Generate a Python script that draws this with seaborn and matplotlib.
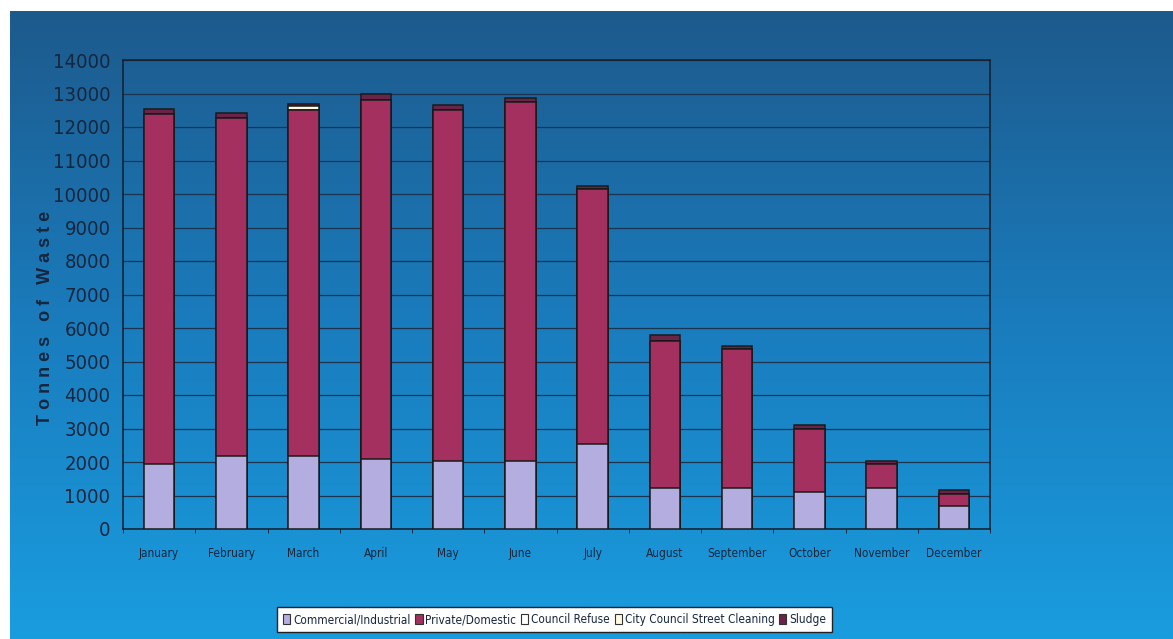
import numpy as np
import pandas as pd
import seaborn as sns
import matplotlib.pyplot as plt
from matplotlib.patches import Patch

months = ["January", "February", "March", "April", "May", "June", "July",
          "August", "September", "October", "November", "December"]

commercial = [1950, 2180, 2180, 2090, 2030, 2030, 2540, 1220, 1220, 1100, 1220, 700]
private = [10450, 10100, 10320, 10710, 10470, 10720, 7600, 4390, 4150, 1890, 720, 340]
council_refuse = [0, 0, 0, 0, 0, 0, 0, 0, 0, 0, 0, 0]
street_cleaning = [0, 0, 120, 0, 0, 0, 0, 0, 0, 0, 0, 0]
sludge = [150, 130, 60, 200, 170, 110, 90, 180, 100, 110, 90, 120]

series = ["Commercial/Industrial", "Private/Domestic", "Council Refuse",
          "City Council Street Cleaning", "Sludge"]
colors = ["#b3ade0", "#a3305f", "#ffffff", "#fffbe0", "#6a2448"]

df = pd.DataFrame({
    "month": months,
    series[0]: commercial,
    series[1]: private,
    series[2]: council_refuse,
    series[3]: street_cleaning,
    series[4]: sludge,
})

text_col = "#16263d"

fig = plt.figure(figsize=(11.73, 6.39), dpi=100, facecolor="white")

# blue gradient backdrop, leaving a thin white margin top/left like the scan
bg = fig.add_axes([10 / 1173, 0, 1 - 10 / 1173, 1 - 11 / 639], zorder=-5)
grad = np.linspace(0, 1, 256).reshape(-1, 1)
cmap = sns.blend_palette(["#1d5a8c", "#1a7cbd", "#199ddf"], as_cmap=True)
bg.imshow(grad, aspect="auto", cmap=cmap, extent=[0, 1, 0, 1], origin="upper")
bg.set_axis_off()

ax = fig.add_axes([123 / 1173, 1 - 529 / 639, 867 / 1173, 469 / 639])
ax.set_facecolor("none")

# stacked bars: draw cumulative totals from the top layer down
cum = df[series].cumsum(axis=1)
for i in range(len(series) - 1, -1, -1):
    sns.barplot(x=df["month"], y=cum[series[i]], color=colors[i], saturation=1,
                width=0.42, edgecolor="#1a1a1a", linewidth=1.1, ax=ax, zorder=3)

ax.set_ylim(0, 14000)
ax.set_xlim(-0.5, 11.5)
ax.set_yticks(range(0, 14001, 1000))
ax.yaxis.grid(True, color="#1b3450", linewidth=0.9, zorder=0)
ax.set_axisbelow(True)
for s in ax.spines.values():
    s.set_color("#141e2c")
    s.set_linewidth(1.1)

ax.tick_params(axis="y", length=0, pad=9, labelsize=14.5, labelcolor=text_col)
ax.tick_params(axis="x", which="major", length=0, pad=13, labelsize=8.5,
               labelcolor=text_col)
ax.set_xticks(np.arange(-0.5, 12, 1), minor=True)
ax.tick_params(axis="x", which="minor", length=3, color="#141e2c")
for lab in ax.get_yticklabels() + ax.get_xticklabels():
    lab.set_fontstretch("condensed")

ax.set_xlabel("")
ax.set_ylabel("T o n n e s   o f   W a s t e", fontsize=13, color=text_col,
              family=["Liberation Sans", "DejaVu Sans"], fontweight="bold")
ax.yaxis.set_label_coords(-0.08, 0.45)

handles = [Patch(facecolor=c, edgecolor="#333333", linewidth=0.8) for c in colors]
leg = fig.legend(handles, series, loc="center", bbox_to_anchor=(0.473, 0.03),
                 ncol=5, frameon=True, fancybox=False, handlelength=0.6,
                 handleheight=0.9, handletextpad=0.25, columnspacing=0.4,
                 borderpad=0.5, prop={"size": 8.5, "stretch": "condensed"})
leg.get_frame().set_facecolor("white")
leg.get_frame().set_edgecolor("#222222")
leg.get_frame().set_alpha(1)
for t in leg.get_texts():
    t.set_color(text_col)

fig.savefig("out.png", dpi=100, facecolor=fig.get_facecolor())
